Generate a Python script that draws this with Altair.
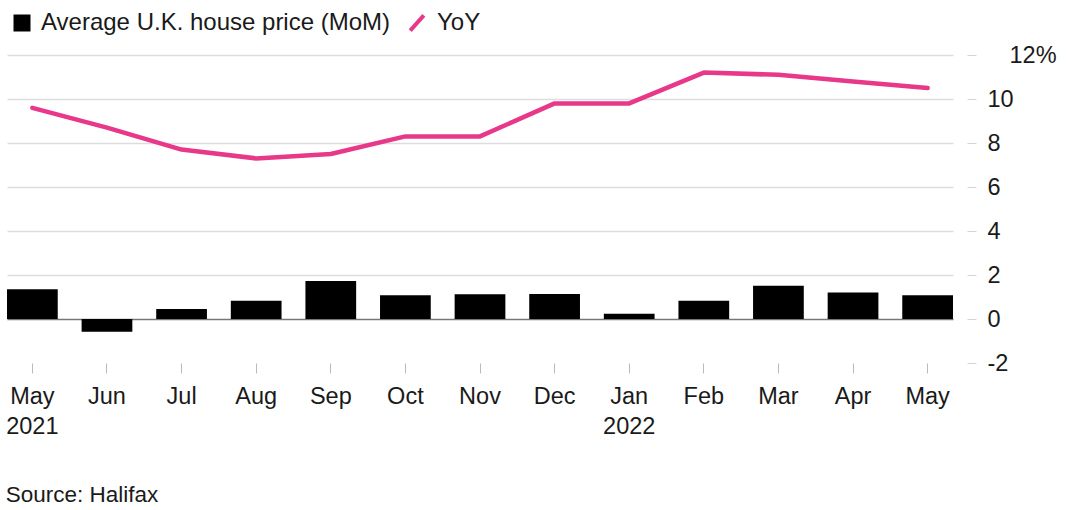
import altair as alt
import pandas as pd

periods = ["May 2021", "Jun 2021", "Jul 2021", "Aug 2021", "Sep 2021", "Oct 2021", "Nov 2021",
           "Dec 2021", "Jan 2022", "Feb 2022", "Mar 2022", "Apr 2022", "May 2022"]
mom = [1.35, -0.58, 0.45, 0.83, 1.73, 1.08, 1.12, 1.14, 0.24, 0.83, 1.51, 1.21, 1.08]
yoy = [9.6, 8.7, 7.7, 7.3, 7.5, 8.3, 8.3, 9.8, 9.8, 11.2, 11.1, 10.8, 10.5]
y_ticks = [-2, 0, 2, 4, 6, 8, 10, 12]
bar_name = "Average U.K. house price (MoM)"
line_name = "YoY"
PINK = "#e8388a"
FONT = "Liberation Sans"

bars = pd.DataFrame({"period": periods, "value": mom, "mom_series": bar_name})
line = pd.DataFrame({"period": periods, "value": yoy, "yoy_series": line_name})

x_enc = alt.X(
    "period:N", sort=periods, title=None,
    scale=alt.Scale(paddingInner=0.32, paddingOuter=0),
    axis=alt.Axis(
        labelAngle=0, domain=False, ticks=True, tickSize=10, tickColor="#bbbbbb",
        tickWidth=1, labelFontSize=23.5, labelFont=FONT, labelColor="#1a1a1a",
        labelPadding=11, labelLineHeight=30,
        labelExpr="(datum.value == 'May 2021' || datum.value == 'Jan 2022') ? split(datum.value, ' ') : split(datum.value, ' ')[0]",
    ),
)
y_scale = alt.Scale(domain=[-2, 12], nice=False)
y_axis = alt.Axis(
    orient="right", values=y_ticks, domain=False, offset=14, tickSize=9,
    tickColor="#d5d5d5", labelFontSize=23.5, labelFont=FONT, labelColor="#1a1a1a",
    labelPadding={"condition": {"test": "datum.value === 12", "value": 33}, "value": 11},
    labelExpr="datum.value === 12 ? '12%' : '' + datum.value",
    grid=True,
    gridColor={"condition": {"test": "datum.value === 0", "value": "#777777"}, "value": "#dddddd"},
    gridOpacity={"condition": {"test": "datum.value === -2", "value": 0}, "value": 1},
    gridWidth=1.5, title=None,
)

bar_legend = alt.Legend(
    title=None, orient="none", legendX=3, legendY=-44, direction="horizontal",
    labelFontSize=24, labelFont=FONT, labelColor="#1a1a1a", symbolSize=289, labelLimit=0,
    symbolType="square", labelOffset=7, symbolStrokeWidth=0,
)
line_legend = alt.Legend(
    title=None, orient="none", legendX=398, legendY=-44, direction="horizontal",
    labelFontSize=24, labelFont=FONT, labelColor="#1a1a1a", symbolSize=289, labelLimit=0,
    symbolType="M-0.8,0.9L0.8,-0.9", symbolStrokeWidth=4, labelOffset=8,
)

bar_layer = alt.Chart(bars).mark_bar().encode(
    x=x_enc,
    y=alt.Y("value:Q", scale=y_scale, axis=y_axis),
    color=alt.Color("mom_series:N", scale=alt.Scale(range=["#000000"]), legend=bar_legend),
)
line_layer = alt.Chart(line).mark_line(strokeWidth=4.5, interpolate="linear", strokeCap="round",
                                       strokeJoin="round").encode(
    x=alt.X("period:N", sort=periods),
    y=alt.Y("value:Q", scale=y_scale),
    stroke=alt.Stroke("yoy_series:N", scale=alt.Scale(range=[PINK]), legend=line_legend),
)

chart = alt.layer(bar_layer, line_layer).resolve_scale(color="independent").properties(
    width=946, height=308,
    background="white",
    autosize=alt.AutoSizeParams(type="none"),
    padding={"left": 7, "top": 55, "right": 127, "bottom": 147},
    title=alt.TitleParams("Source: Halifax", orient="bottom", anchor="start", fontSize=22.5,
                          font=FONT, fontWeight="normal", color="#1a1a1a", offset=46),
).configure_view(stroke=None)

chart.save("out.html", embed_options={"renderer": "svg", "actions": False})
